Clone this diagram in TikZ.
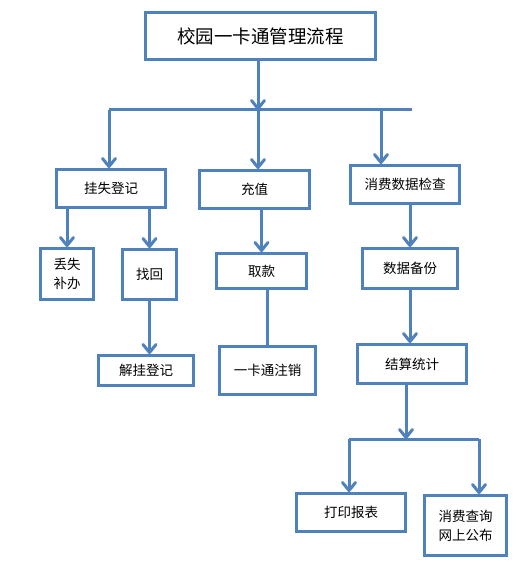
\documentclass[tikz,border=0pt]{standalone}
\usepackage{fontspec}
\setmainfont{Noto Sans CJK SC}
\usetikzlibrary{arrows.meta}
\definecolor{flowblue}{HTML}{4F81BD}
\tikzset{
    stepbox/.style={
           rectangle,
           draw=flowblue,
           line width=3pt,
           inner sep=2pt,
           align=center,
           text centered,
           font=\fontsize{13.5}{19}\selectfont,
           },
    flow/.style={draw=flowblue,line width=3pt},
    flowarrow/.style={flow,-{Straight Barb[length=8pt,width=13pt,round]}},
}

\begin{document}
\begin{tikzpicture}[x=1pt,y=-1pt]
\useasboundingbox (0,0) rectangle (524,564);
\node[stepbox,minimum width=230pt,minimum height=47pt,font=\fontsize{18.5}{20}\selectfont](title) at (260.5,36){校园一卡通管理流程};
% first row
\node[stepbox,minimum width=109pt,minimum height=38pt](guashi) at (111,188.5){挂失登记};
\node[stepbox,minimum width=110pt,minimum height=38pt](chongzhi) at (254.5,189.5){充值};
\node[stepbox,minimum width=109pt,minimum height=38pt](xiaofei) at (405,184.5){消费数据检查};
% second row
\node[stepbox,minimum width=53pt,minimum height=51pt](diushi) at (67,274){丢失\\补办};
\node[stepbox,minimum width=54pt,minimum height=50pt](zhaohui) at (149.5,274.5){找回};
\node[stepbox,minimum width=90pt,minimum height=35pt](qukuan) at (261.5,271){取款};
\node[stepbox,minimum width=95pt,minimum height=40pt](beifen) at (410,268.5){数据备份};
% third row
\node[stepbox,minimum width=95pt,minimum height=30pt](jiegua) at (146,370.5){解挂登记};
\node[stepbox,minimum width=96pt,minimum height=48pt](zhuxiao) at (267.5,370.5){一卡通注销};
\node[stepbox,minimum width=109pt,minimum height=39pt](jiesuan) at (412,364){结算统计};
% last row
\node[stepbox,minimum width=109pt,minimum height=38pt](dayin) at (351,512.5){打印报表};
\node[stepbox,minimum width=82pt,minimum height=60pt](chaxun) at (465.5,525.5){消费查询\\网上公布};

\coordinate (hub) at (258,110);
\coordinate (barL) at (109,110);
\coordinate (barR) at (412,110);
\coordinate (barX) at (381,110);
\coordinate (hubB) at (406,439);
\coordinate (barBL) at (349,439);
\coordinate (barBR) at (479,439);

\draw[flow] (barL) -- (barR);
\draw[flow] (barBL) -- (barBR);
\draw[flowarrow] (hub |- title.south) -- (hub);
\draw[flowarrow] (barL) -- (barL |- guashi.north);
\draw[flowarrow] (hub) -- (hub |- chongzhi.north);
\draw[flowarrow] (barX) -- (barX |- xiaofei.north);
\draw[flowarrow] (diushi |- guashi.south) -- (diushi.north);
\draw[flowarrow] (zhaohui |- guashi.south) -- (zhaohui.north);
\draw[flowarrow] (zhaohui.south) -- (zhaohui.south |- jiegua.north);
\draw[flowarrow] (qukuan |- chongzhi.south) -- (qukuan.north);
\draw[flow] (zhuxiao |- qukuan.south) -- (zhuxiao.north);
\draw[flowarrow] (beifen |- xiaofei.south) -- (beifen.north);
\draw[flowarrow] (beifen.south) -- (beifen.south |- jiesuan.north);
\draw[flowarrow] (hubB |- jiesuan.south) -- (hubB);
\draw[flowarrow] (barBL) -- (barBL |- dayin.north);
\draw[flowarrow] (barBR) -- (barBR |- chaxun.north);
\end{tikzpicture}
\end{document}
